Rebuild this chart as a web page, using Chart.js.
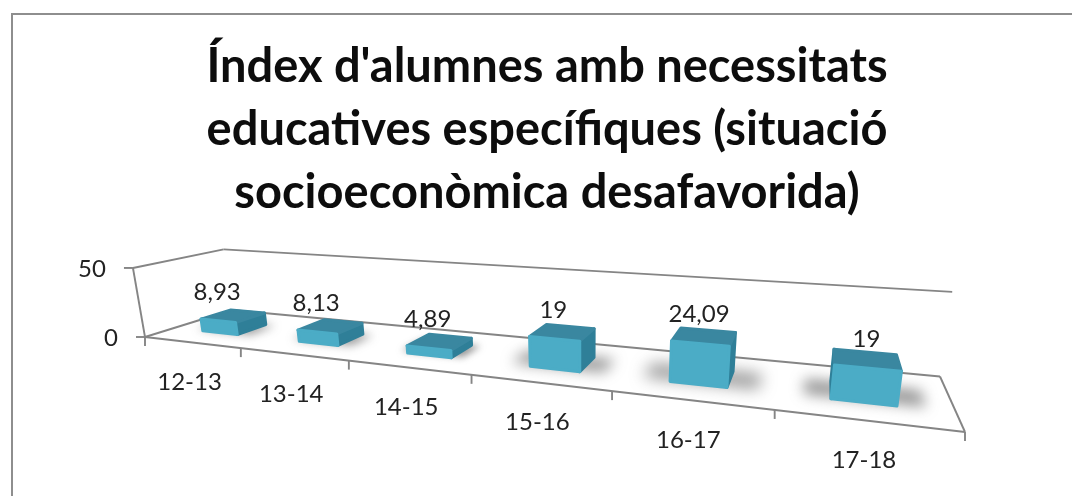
<!DOCTYPE html>
<html>
<head>
<meta charset="utf-8">
<title>Índex d'alumnes</title>
<script src="https://cdn.jsdelivr.net/npm/chart.js@4"></script>
<style>
  html, body { margin: 0; background: #fff; }
  body { width: 1072px; height: 496px; overflow: hidden; position: relative; }
  #marco { position: absolute; left: 11px; top: 13px; width: 1100px; height: 520px; border: 2px solid #8e8e8e; filter: blur(0.5px); }
  #lienzo { position: absolute; left: 0; top: 0; filter: blur(0.5px); }
</style>
</head>
<body>
<div id="marco"></div>
<canvas id="lienzo" width="1072" height="496"></canvas>
<script>
const categorias = ["12-13", "13-14", "14-15", "15-16", "16-17", "17-18"]
const valores = [8.93, 8.13, 4.89, 19, 24.09, 19]
const ticksY = [0, 50]
const titulo = ["Índex d'alumnes amb necessitats", "educatives específiques (situació", "socioeconòmica desafavorida)"]

// esquinas del suelo en pantalla, con ellas se arma la perspectiva
const sueloO = { x: 145, y: 337 }
const sueloU = { x: 965, y: 432 }
const sueloUD = { x: 940, y: 376.5 }
const sueloD = { x: 232, y: 310 }
// efecto de la altura en la proyeccion
const altoW = -0.02675
const altoX = -15.6
const altoY = -76.2

const colorLinea = "#858585"
const colorFrente = "#4bacc6"
const colorLado = "#2f7f98"
const colorTecho = "#3a87a0"
const fondoBarra = 0.66
const frenteBarra = 0.31
const fuenteTexto = "Lato"


function armarProyeccion() {
    const dx1 = sueloU.x - sueloUD.x
    const dx2 = sueloD.x - sueloUD.x
    const dy1 = sueloU.y - sueloUD.y
    const dy2 = sueloD.y - sueloUD.y
    const sx = sueloO.x - sueloU.x + sueloUD.x - sueloD.x
    const sy = sueloO.y - sueloU.y + sueloUD.y - sueloD.y
    const den = dx1 * dy2 - dx2 * dy1
    const g = (sx * dy2 - dx2 * sy) / den
    const k = (dx1 * sy - sx * dy1) / den
    const a = sueloU.x - sueloO.x + g * sueloU.x
    const b = sueloD.x - sueloO.x + k * sueloD.x
    const d = sueloU.y - sueloO.y + g * sueloU.y
    const e = sueloD.y - sueloO.y + k * sueloD.y

    return (u, v, h) => {
        const w = g * u + k * v + 1 + altoW * h
        return {
            x: (a * u + b * v + sueloO.x + altoX * h) / w,
            y: (d * u + e * v + sueloO.y + altoY * h) / w
        }
    }
}

const proyectar = armarProyeccion()


function poligono(ctx, puntos) {
    ctx.beginPath()
    puntos.forEach((p, i) => i === 0 ? ctx.moveTo(p.x, p.y) : ctx.lineTo(p.x, p.y))
    ctx.closePath()
}

function linea(ctx, a, b) {
    ctx.beginPath()
    ctx.moveTo(a.x, a.y)
    ctx.lineTo(b.x, b.y)
    ctx.stroke()
}

function area(puntos) {
    let s = 0
    puntos.forEach((p, i) => {
        const q = puntos[(i + 1) % puntos.length]
        s += p.x * q.y - q.x * p.y
    })
    return s
}

function cara(ctx, puntos, color) {
    poligono(ctx, puntos)
    ctx.fillStyle = color
    ctx.strokeStyle = color
    ctx.lineWidth = 3
    ctx.lineJoin = "round"
    ctx.fill()
    ctx.stroke()
}


// dibuja todo en perspectiva leyendo posiciones de las escalas del chart
const perspectiva = {
    id: "perspectiva",
    afterDatasetsDraw(chart) {
        const ctx = chart.ctx
        const area0 = chart.chartArea
        const escalaX = chart.scales.x
        const escalaY = chart.scales.y
        const ancho = area0.right - area0.left
        const alto = area0.bottom - area0.top
        const aU = (px) => (px - area0.left) / ancho
        const aH = (py) => (area0.bottom - py) / alto

        ctx.save()

        // paredes y suelo
        ctx.strokeStyle = colorLinea
        ctx.lineWidth = 1.9
        linea(ctx, proyectar(0, 0, 0), proyectar(1, 0, 0))
        linea(ctx, proyectar(1, 0, 0), proyectar(1, 1, 0))
        linea(ctx, proyectar(1, 1, 0), proyectar(0, 1, 0))
        linea(ctx, proyectar(0, 1, 0), proyectar(0, 0, 0))
        linea(ctx, proyectar(0, 0, 0), proyectar(0, 0, 1))

        ticksY.forEach((t) => {
            const h = aH(escalaY.getPixelForValue(t))
            const p = proyectar(0, 0, h)
            linea(ctx, { x: p.x - 9, y: p.y }, p)
            if (t > 0) {
                linea(ctx, p, proyectar(0, 1, h))
                linea(ctx, proyectar(0, 1, h), proyectar(1, 1, h))
            }
        })

        // marcas del eje x, entre categorias
        for (let i = 0; i <= categorias.length; i++) {
            const px = i < categorias.length
                ? escalaX.getPixelForTick(i) - (escalaX.getPixelForTick(1) - escalaX.getPixelForTick(0)) / 2
                : area0.right
            const p = proyectar(aU(px), 0, 0)
            linea(ctx, p, { x: p.x, y: p.y + 9 })
        }

        const barras = chart.getDatasetMeta(0).data

        // sombras sobre el suelo
        barras.forEach((barra) => {
            const u0 = aU(barra.x - barra.width / 2)
            const u1 = aU(barra.x + barra.width / 2)
            const h = aH(barra.y)
            const extra = 0.008 + h * 0.05
            ctx.save()
            ctx.filter = "blur(" + (3 + h * 10) + "px)"
            ctx.fillStyle = "rgba(80,80,80,0.6)"
            poligono(ctx, [
                proyectar(u0 - extra, frenteBarra + 0.04, 0),
                proyectar(u1 + extra, frenteBarra + 0.04, 0),
                proyectar(u1 + extra, fondoBarra, 0),
                proyectar(u0 - extra, fondoBarra, 0)
            ])
            ctx.fill()
            ctx.restore()
        })

        // barras
        barras.forEach((barra) => {
            const u0 = aU(barra.x - barra.width / 2)
            const u1 = aU(barra.x + barra.width / 2)
            const h = aH(barra.y)
            const f = frenteBarra
            const t = fondoBarra

            const derecha = [proyectar(u1, f, 0), proyectar(u1, t, 0), proyectar(u1, t, h), proyectar(u1, f, h)]
            const izquierda = [proyectar(u0, t, 0), proyectar(u0, f, 0), proyectar(u0, f, h), proyectar(u0, t, h)]
            if (area(derecha) < 0) cara(ctx, derecha, colorLado)
            if (area(izquierda) < 0) cara(ctx, izquierda, colorLado)
            cara(ctx, [proyectar(u0, f, h), proyectar(u1, f, h), proyectar(u1, t, h), proyectar(u0, t, h)], colorTecho)
            cara(ctx, [proyectar(u0, f, 0), proyectar(u1, f, 0), proyectar(u1, f, h), proyectar(u0, f, h)], colorFrente)
        })

        // textos
        ctx.fillStyle = "#222222"
        ctx.font = "24px " + fuenteTexto
        ctx.textAlign = "center"
        ctx.textBaseline = "middle"

        barras.forEach((barra, i) => {
            const p = proyectar(aU(barra.x), frenteBarra, aH(barra.y))
            ctx.fillText(String(valores[i]).replace(".", ","), p.x - 1, p.y - 29)
        })

        categorias.forEach((cat, i) => {
            const p = proyectar(aU(escalaX.getPixelForTick(i)), 0, 0)
            ctx.fillText(cat, p.x - 2, p.y + 40)
        })

        ctx.textAlign = "right"
        ticksY.forEach((t) => {
            const p = proyectar(0, 0, aH(escalaY.getPixelForValue(t)))
            ctx.fillText(String(t), p.x - 27, p.y + 1)
        })

        ctx.restore()
    }
}


new Chart(document.getElementById("lienzo"), {
    type: "bar",
    data: {
        labels: categorias,
        datasets: [{
            data: valores,
            backgroundColor: "transparent",
            barPercentage: 0.37,
            categoryPercentage: 1
        }]
    },
    options: {
        responsive: false,
        animation: false,
        layout: { padding: { left: 22, top: 35 } },
        plugins: {
            legend: { display: false },
            tooltip: { enabled: false },
            title: {
                display: true,
                text: titulo,
                color: "#0d0d0d",
                font: { family: "Lato", size: 47, weight: "bold", lineHeight: 1.34 },
                padding: { top: 0, bottom: 10 }
            }
        },
        scales: {
            x: { grid: { display: false }, border: { display: false }, ticks: { display: false } },
            y: {
                min: 0,
                max: 50,
                grid: { display: false },
                border: { display: false },
                ticks: { display: false, stepSize: 50 }
            }
        }
    },
    plugins: [perspectiva]
})
</script>
</body>
</html>
